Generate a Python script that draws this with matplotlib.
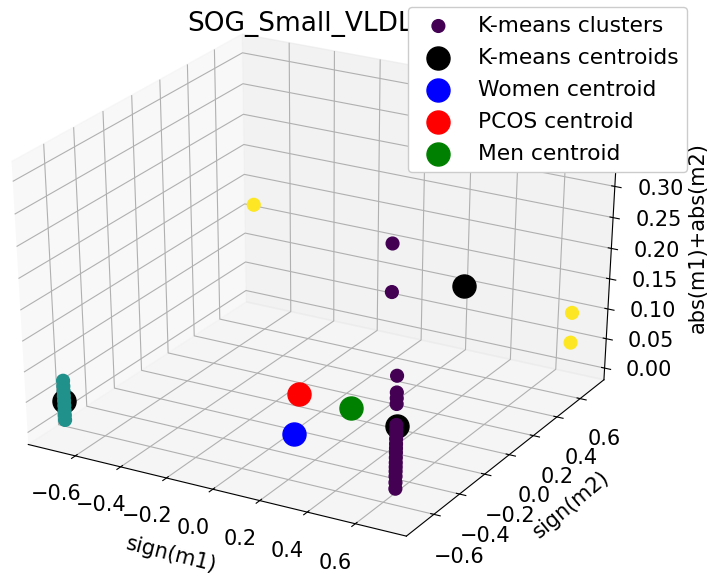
import numpy as np
import matplotlib
matplotlib.use('Agg')
import matplotlib.pyplot as plt
from mpl_toolkits.mplot3d import proj3d

plt.rcParams['font.size'] = 15

# k-means cluster 0 (purple): column at (0.707, -0.707) plus two points near the back
c0_m1 = [0.707] * 18 + [-0.08, -0.08]
c0_m2 = [-0.707] * 18 + [0.707, 0.707]
c0_abs = [0.209, 0.183, 0.174, 0.165, 0.132, 0.125, 0.118, 0.110, 0.102, 0.095,
          0.088, 0.080, 0.072, 0.065, 0.058, 0.050, 0.040, 0.030, 0.153, 0.071]

# cluster 1 (teal)
c1_m1 = [-0.707] * 9
c1_m2 = [-0.707] * 9
c1_abs = [0.014, 0.022, 0.030, 0.038, 0.046, 0.054, 0.062, 0.070, 0.079]

# cluster 2 (yellow)
c2_m1 = [-0.707, 0.707, 0.707]
c2_m2 = [0.707, 0.707, 0.707]
c2_abs = [0.170, 0.050, 0.100]

# k-means centroids
cent_m1 = [0.64, -0.707, 0.236]
cent_m2 = [-0.58, -0.707, 0.707]
cent_abs = [0.105, 0.045, 0.107]

# group centroids (m1, m2, abs)
women = [0.229, -0.61, 0.06]
pcos = [0.068, -0.289, 0.06]
men = [0.298, -0.305, 0.06]

xy_ticks = [-0.6, -0.4, -0.2, 0.0, 0.2, 0.4, 0.6]
z_ticks = [0.0, 0.05, 0.10, 0.15, 0.20, 0.25, 0.30, 0.35, 0.40]
xlo, xhi = -0.81, 0.81
ylo, yhi = -0.81, 0.81
zlo, zhi = -0.02, 0.43

xs = np.array(c0_m1 + c1_m1 + c2_m1)
ys = np.array(c0_m2 + c1_m2 + c2_m2)
zs = np.array(c0_abs + c1_abs + c2_abs)
labels = np.array([0] * len(c0_m1) + [1] * len(c1_m1) + [2] * len(c2_m1))

fig = plt.figure(figsize=(7.17, 5.8), dpi=100)
# old-style 3d axes: box stretched to the axes rectangle
ax = fig.add_axes([-0.0727, 0.0414, 1.0139, 0.9414], projection='3d')
ax.set_box_aspect((1, 1, 0.99))
ax.apply_aspect = lambda position=None: None
ax.view_init(elev=30, azim=-60.5)

ax.scatter(xs, ys, zs, c=labels, cmap='viridis', s=84, alpha=1, depthshade=False,
           label='K-means clusters')
ax.scatter(cent_m1, cent_m2, cent_abs, c='black', s=275, alpha=1, depthshade=False,
           label='K-means centroids')
ax.scatter(*[[v] for v in women], c='blue', s=275, depthshade=False, label='Women centroid')
ax.scatter(*[[v] for v in pcos], c='red', s=275, depthshade=False, label='PCOS centroid')
ax.scatter(*[[v] for v in men], c='green', s=275, depthshade=False, label='Men centroid')

ax.set_xlim(xlo, xhi)
ax.set_ylim(ylo, yhi)
ax.set_zlim(zlo, zhi)
ax.set_xticks(xy_ticks)
ax.set_yticks(xy_ticks)
ax.set_zticks(z_ticks)
ax.xaxis.set_tick_params(labelbottom=False)
ax.yaxis.set_tick_params(labelleft=False)
ax.zaxis.set_tick_params(labelleft=False)
for axis in (ax.xaxis, ax.yaxis, ax.zaxis):
    axis.label.set_visible(False)

fig.canvas.draw()
M = ax.get_proj()


def fmt(v, nd):
    return f'{v:.{nd}f}'.replace('-', '\u2212')


def put(x, y, z, s, along=None):
    # project a 3d point and write the text there as plain 2d text
    px, py, _ = proj3d.proj_transform(x, y, z, M)
    rot = 0
    if along is not None:
        qx, qy, _ = proj3d.proj_transform(x + along[0], y + along[1], z + along[2], M)
        p0 = ax.transData.transform((px, py))
        p1 = ax.transData.transform((qx, qy))
        rot = np.degrees(np.arctan2(p1[1] - p0[1], p1[0] - p0[0]))
    ax.text2D(px, py, s, transform=ax.transData, rotation=rot,
              ha='center', va='center')


# tick labels placed the way old mplot3d did (pushed away from the box centre)
for t in xy_ticks:
    put(t, ylo - 0.144, zlo - 0.04, fmt(t, 1))
    put(xhi + 0.11, t, zlo - 0.06, fmt(t, 1))
for t in z_ticks:
    put(xhi + 0.13, yhi + 0.13, t - 0.012, fmt(t, 2))

put(0.0, ylo - 0.304, zlo - 0.057, 'sign(m1)', along=(0.1, 0, 0))
put(xhi + 0.266, 0.0, zlo - 0.06, 'sign(m2)', along=(0, 0.1, 0))
fig.text(698 / 717, 1 - 238 / 580, 'abs(m1)+abs(m2)', rotation=90,
         ha='center', va='center')

fig.text(187 / 717, 1 - 31 / 580, 'SOG_Small_VLDL', ha='left', va='baseline', fontsize=19)
fig.legend(loc='upper right', bbox_to_anchor=(687 / 717, 1 - 7 / 580),
           bbox_transform=fig.transFigure, borderaxespad=0, fontsize=15.7,
           framealpha=1, labelspacing=0.55)

fig.savefig('out.png', dpi=100)
